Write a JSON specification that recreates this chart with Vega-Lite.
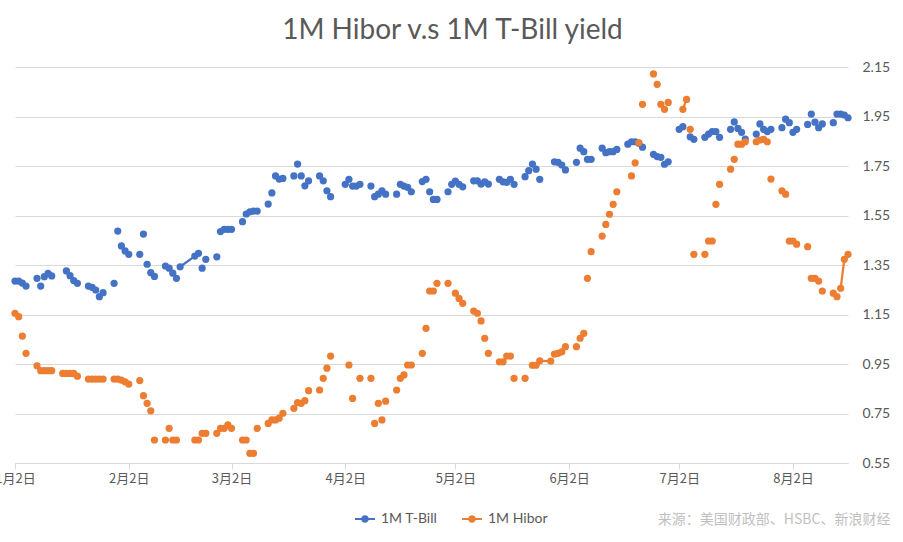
{
"$schema": "https://vega.github.io/schema/vega-lite/v6.json",
"autosize": {"type": "none"},
"width": 833,
"height": 396,
"padding": {"left": 15, "top": 67, "right": 55, "bottom": 79},
"background": "white",
"config": {"view": {"stroke": null}},
"title": {"text": "1M Hibor v.s 1M T-Bill yield", "font": "Lato", "fontSize": 28, "fontWeight": "normal", "color": "#595959", "anchor": "middle", "dx": 21, "offset": 15},
"data": {"format": {"parse": {"d": "date:'%Y-%m-%d'"}}, "values": [
{"d":"2018-01-02","s":"1M T-Bill","v":1.285},{"d":"2018-01-03","s":"1M T-Bill","v":1.285},{"d":"2018-01-04","s":"1M T-Bill","v":1.277},{"d":"2018-01-05","s":"1M T-Bill","v":1.265},
{"d":"2018-01-08","s":"1M T-Bill","v":1.296},{"d":"2018-01-09","s":"1M T-Bill","v":1.265},{"d":"2018-01-10","s":"1M T-Bill","v":1.303},{"d":"2018-01-11","s":"1M T-Bill","v":1.316},{"d":"2018-01-12","s":"1M T-Bill","v":1.306},
{"d":"2018-01-16","s":"1M T-Bill","v":1.326},{"d":"2018-01-17","s":"1M T-Bill","v":1.307},{"d":"2018-01-18","s":"1M T-Bill","v":1.287},{"d":"2018-01-19","s":"1M T-Bill","v":1.276},
{"d":"2018-01-22","s":"1M T-Bill","v":1.265},{"d":"2018-01-23","s":"1M T-Bill","v":1.26},{"d":"2018-01-24","s":"1M T-Bill","v":1.249},{"d":"2018-01-25","s":"1M T-Bill","v":1.222},{"d":"2018-01-26","s":"1M T-Bill","v":1.238},
{"d":"2018-01-29","s":"1M T-Bill","v":1.276},{"d":"2018-01-30","s":"1M T-Bill","v":1.487},{"d":"2018-01-31","s":"1M T-Bill","v":1.427},{"d":"2018-02-01","s":"1M T-Bill","v":1.407},{"d":"2018-02-02","s":"1M T-Bill","v":1.393},
{"d":"2018-02-05","s":"1M T-Bill","v":1.393},{"d":"2018-02-06","s":"1M T-Bill","v":1.475},{"d":"2018-02-07","s":"1M T-Bill","v":1.353},{"d":"2018-02-08","s":"1M T-Bill","v":1.319},{"d":"2018-02-09","s":"1M T-Bill","v":1.304},
{"d":"2018-02-12","s":"1M T-Bill","v":1.346},{"d":"2018-02-13","s":"1M T-Bill","v":1.337},{"d":"2018-02-14","s":"1M T-Bill","v":1.317},{"d":"2018-02-15","s":"1M T-Bill","v":1.296},{"d":"2018-02-16","s":"1M T-Bill","v":1.343,"run":1},
{"d":"2018-02-20","s":"1M T-Bill","v":1.386,"run":1},{"d":"2018-02-21","s":"1M T-Bill","v":1.397,"run":1},{"d":"2018-02-22","s":"1M T-Bill","v":1.337},{"d":"2018-02-23","s":"1M T-Bill","v":1.373},
{"d":"2018-02-26","s":"1M T-Bill","v":1.383},{"d":"2018-02-27","s":"1M T-Bill","v":1.485},{"d":"2018-02-28","s":"1M T-Bill","v":1.494},{"d":"2018-03-01","s":"1M T-Bill","v":1.494},{"d":"2018-03-02","s":"1M T-Bill","v":1.494},
{"d":"2018-03-05","s":"1M T-Bill","v":1.525},{"d":"2018-03-06","s":"1M T-Bill","v":1.556},{"d":"2018-03-07","s":"1M T-Bill","v":1.565},{"d":"2018-03-08","s":"1M T-Bill","v":1.568},{"d":"2018-03-09","s":"1M T-Bill","v":1.568},
{"d":"2018-03-12","s":"1M T-Bill","v":1.596},{"d":"2018-03-13","s":"1M T-Bill","v":1.641},{"d":"2018-03-14","s":"1M T-Bill","v":1.71},{"d":"2018-03-15","s":"1M T-Bill","v":1.697},{"d":"2018-03-16","s":"1M T-Bill","v":1.70},
{"d":"2018-03-19","s":"1M T-Bill","v":1.71},{"d":"2018-03-20","s":"1M T-Bill","v":1.758},{"d":"2018-03-21","s":"1M T-Bill","v":1.71},{"d":"2018-03-22","s":"1M T-Bill","v":1.67},{"d":"2018-03-23","s":"1M T-Bill","v":1.69},
{"d":"2018-03-26","s":"1M T-Bill","v":1.71},{"d":"2018-03-27","s":"1M T-Bill","v":1.69},{"d":"2018-03-28","s":"1M T-Bill","v":1.65},{"d":"2018-03-29","s":"1M T-Bill","v":1.626},
{"d":"2018-04-02","s":"1M T-Bill","v":1.676},{"d":"2018-04-03","s":"1M T-Bill","v":1.696},{"d":"2018-04-04","s":"1M T-Bill","v":1.669},{"d":"2018-04-05","s":"1M T-Bill","v":1.669},{"d":"2018-04-06","s":"1M T-Bill","v":1.676},
{"d":"2018-04-09","s":"1M T-Bill","v":1.669},{"d":"2018-04-10","s":"1M T-Bill","v":1.626},{"d":"2018-04-11","s":"1M T-Bill","v":1.636},{"d":"2018-04-12","s":"1M T-Bill","v":1.65},{"d":"2018-04-13","s":"1M T-Bill","v":1.636},
{"d":"2018-04-16","s":"1M T-Bill","v":1.636},{"d":"2018-04-17","s":"1M T-Bill","v":1.676},{"d":"2018-04-18","s":"1M T-Bill","v":1.669},{"d":"2018-04-19","s":"1M T-Bill","v":1.664},{"d":"2018-04-20","s":"1M T-Bill","v":1.646},
{"d":"2018-04-23","s":"1M T-Bill","v":1.687},{"d":"2018-04-24","s":"1M T-Bill","v":1.696},{"d":"2018-04-25","s":"1M T-Bill","v":1.646},{"d":"2018-04-26","s":"1M T-Bill","v":1.615},{"d":"2018-04-27","s":"1M T-Bill","v":1.615},
{"d":"2018-04-30","s":"1M T-Bill","v":1.646},{"d":"2018-05-01","s":"1M T-Bill","v":1.676},{"d":"2018-05-02","s":"1M T-Bill","v":1.689},{"d":"2018-05-03","s":"1M T-Bill","v":1.676},{"d":"2018-05-04","s":"1M T-Bill","v":1.666},
{"d":"2018-05-07","s":"1M T-Bill","v":1.69},{"d":"2018-05-08","s":"1M T-Bill","v":1.69},{"d":"2018-05-09","s":"1M T-Bill","v":1.677},{"d":"2018-05-10","s":"1M T-Bill","v":1.686},{"d":"2018-05-11","s":"1M T-Bill","v":1.677},
{"d":"2018-05-14","s":"1M T-Bill","v":1.696},{"d":"2018-05-15","s":"1M T-Bill","v":1.686},{"d":"2018-05-16","s":"1M T-Bill","v":1.684},{"d":"2018-05-17","s":"1M T-Bill","v":1.696},{"d":"2018-05-18","s":"1M T-Bill","v":1.676},
{"d":"2018-05-21","s":"1M T-Bill","v":1.707},{"d":"2018-05-22","s":"1M T-Bill","v":1.731},{"d":"2018-05-23","s":"1M T-Bill","v":1.758},{"d":"2018-05-24","s":"1M T-Bill","v":1.737},{"d":"2018-05-25","s":"1M T-Bill","v":1.696},
{"d":"2018-05-29","s":"1M T-Bill","v":1.767},{"d":"2018-05-30","s":"1M T-Bill","v":1.765},{"d":"2018-05-31","s":"1M T-Bill","v":1.754},{"d":"2018-06-01","s":"1M T-Bill","v":1.734},
{"d":"2018-06-04","s":"1M T-Bill","v":1.765},{"d":"2018-06-05","s":"1M T-Bill","v":1.822},{"d":"2018-06-06","s":"1M T-Bill","v":1.808},{"d":"2018-06-07","s":"1M T-Bill","v":1.777},{"d":"2018-06-08","s":"1M T-Bill","v":1.777},
{"d":"2018-06-11","s":"1M T-Bill","v":1.822},{"d":"2018-06-12","s":"1M T-Bill","v":1.804},{"d":"2018-06-13","s":"1M T-Bill","v":1.808},{"d":"2018-06-14","s":"1M T-Bill","v":1.808},{"d":"2018-06-15","s":"1M T-Bill","v":1.817},
{"d":"2018-06-18","s":"1M T-Bill","v":1.838},{"d":"2018-06-19","s":"1M T-Bill","v":1.848},{"d":"2018-06-20","s":"1M T-Bill","v":1.848},{"d":"2018-06-21","s":"1M T-Bill","v":1.842},{"d":"2018-06-22","s":"1M T-Bill","v":1.826},
{"d":"2018-06-25","s":"1M T-Bill","v":1.797},{"d":"2018-06-26","s":"1M T-Bill","v":1.788},{"d":"2018-06-27","s":"1M T-Bill","v":1.785},{"d":"2018-06-28","s":"1M T-Bill","v":1.757},{"d":"2018-06-29","s":"1M T-Bill","v":1.767},
{"d":"2018-07-02","s":"1M T-Bill","v":1.898},{"d":"2018-07-03","s":"1M T-Bill","v":1.909},{"d":"2018-07-05","s":"1M T-Bill","v":1.868},{"d":"2018-07-06","s":"1M T-Bill","v":1.858},
{"d":"2018-07-09","s":"1M T-Bill","v":1.866},{"d":"2018-07-10","s":"1M T-Bill","v":1.879},{"d":"2018-07-11","s":"1M T-Bill","v":1.889},{"d":"2018-07-12","s":"1M T-Bill","v":1.889},{"d":"2018-07-13","s":"1M T-Bill","v":1.866},
{"d":"2018-07-16","s":"1M T-Bill","v":1.898},{"d":"2018-07-17","s":"1M T-Bill","v":1.928},{"d":"2018-07-18","s":"1M T-Bill","v":1.902},{"d":"2018-07-19","s":"1M T-Bill","v":1.886},{"d":"2018-07-20","s":"1M T-Bill","v":1.859},
{"d":"2018-07-23","s":"1M T-Bill","v":1.879},{"d":"2018-07-24","s":"1M T-Bill","v":1.92},{"d":"2018-07-25","s":"1M T-Bill","v":1.898},{"d":"2018-07-26","s":"1M T-Bill","v":1.889},{"d":"2018-07-27","s":"1M T-Bill","v":1.898},
{"d":"2018-07-30","s":"1M T-Bill","v":1.905},{"d":"2018-07-31","s":"1M T-Bill","v":1.939},{"d":"2018-08-01","s":"1M T-Bill","v":1.925},{"d":"2018-08-02","s":"1M T-Bill","v":1.886},{"d":"2018-08-03","s":"1M T-Bill","v":1.898},
{"d":"2018-08-06","s":"1M T-Bill","v":1.918},{"d":"2018-08-07","s":"1M T-Bill","v":1.96},{"d":"2018-08-08","s":"1M T-Bill","v":1.927},{"d":"2018-08-09","s":"1M T-Bill","v":1.905},{"d":"2018-08-10","s":"1M T-Bill","v":1.92},
{"d":"2018-08-13","s":"1M T-Bill","v":1.925},{"d":"2018-08-14","s":"1M T-Bill","v":1.96},{"d":"2018-08-15","s":"1M T-Bill","v":1.96},{"d":"2018-08-16","s":"1M T-Bill","v":1.956},{"d":"2018-08-17","s":"1M T-Bill","v":1.945},
{"d":"2018-01-02","s":"1M Hibor","v":1.155},{"d":"2018-01-03","s":"1M Hibor","v":1.141},{"d":"2018-01-04","s":"1M Hibor","v":1.063},{"d":"2018-01-05","s":"1M Hibor","v":0.993},
{"d":"2018-01-08","s":"1M Hibor","v":0.943},{"d":"2018-01-09","s":"1M Hibor","v":0.923},{"d":"2018-01-10","s":"1M Hibor","v":0.923},{"d":"2018-01-11","s":"1M Hibor","v":0.923},{"d":"2018-01-12","s":"1M Hibor","v":0.923},
{"d":"2018-01-15","s":"1M Hibor","v":0.912},{"d":"2018-01-16","s":"1M Hibor","v":0.912},{"d":"2018-01-17","s":"1M Hibor","v":0.912},{"d":"2018-01-18","s":"1M Hibor","v":0.912},{"d":"2018-01-19","s":"1M Hibor","v":0.901},
{"d":"2018-01-22","s":"1M Hibor","v":0.889},{"d":"2018-01-23","s":"1M Hibor","v":0.889},{"d":"2018-01-24","s":"1M Hibor","v":0.889},{"d":"2018-01-25","s":"1M Hibor","v":0.889},{"d":"2018-01-26","s":"1M Hibor","v":0.889},
{"d":"2018-01-29","s":"1M Hibor","v":0.889},{"d":"2018-01-30","s":"1M Hibor","v":0.889},{"d":"2018-01-31","s":"1M Hibor","v":0.885},{"d":"2018-02-01","s":"1M Hibor","v":0.878},{"d":"2018-02-02","s":"1M Hibor","v":0.869},
{"d":"2018-02-05","s":"1M Hibor","v":0.883},{"d":"2018-02-06","s":"1M Hibor","v":0.822},{"d":"2018-02-07","s":"1M Hibor","v":0.791},{"d":"2018-02-08","s":"1M Hibor","v":0.761},{"d":"2018-02-09","s":"1M Hibor","v":0.643},
{"d":"2018-02-12","s":"1M Hibor","v":0.643},{"d":"2018-02-13","s":"1M Hibor","v":0.69},{"d":"2018-02-14","s":"1M Hibor","v":0.643},{"d":"2018-02-15","s":"1M Hibor","v":0.643},
{"d":"2018-02-20","s":"1M Hibor","v":0.643},{"d":"2018-02-21","s":"1M Hibor","v":0.643},{"d":"2018-02-22","s":"1M Hibor","v":0.67},{"d":"2018-02-23","s":"1M Hibor","v":0.67},
{"d":"2018-02-26","s":"1M Hibor","v":0.67},{"d":"2018-02-27","s":"1M Hibor","v":0.69},{"d":"2018-02-28","s":"1M Hibor","v":0.69},{"d":"2018-03-01","s":"1M Hibor","v":0.704},{"d":"2018-03-02","s":"1M Hibor","v":0.69},
{"d":"2018-03-05","s":"1M Hibor","v":0.643},{"d":"2018-03-06","s":"1M Hibor","v":0.643},{"d":"2018-03-07","s":"1M Hibor","v":0.589},{"d":"2018-03-08","s":"1M Hibor","v":0.589},{"d":"2018-03-09","s":"1M Hibor","v":0.69},
{"d":"2018-03-12","s":"1M Hibor","v":0.71},{"d":"2018-03-13","s":"1M Hibor","v":0.724},{"d":"2018-03-14","s":"1M Hibor","v":0.724},{"d":"2018-03-15","s":"1M Hibor","v":0.731},{"d":"2018-03-16","s":"1M Hibor","v":0.751},
{"d":"2018-03-19","s":"1M Hibor","v":0.771},{"d":"2018-03-20","s":"1M Hibor","v":0.794},{"d":"2018-03-21","s":"1M Hibor","v":0.791},{"d":"2018-03-22","s":"1M Hibor","v":0.802},{"d":"2018-03-23","s":"1M Hibor","v":0.842},
{"d":"2018-03-26","s":"1M Hibor","v":0.845},{"d":"2018-03-27","s":"1M Hibor","v":0.892},{"d":"2018-03-28","s":"1M Hibor","v":0.933},{"d":"2018-03-29","s":"1M Hibor","v":0.982},
{"d":"2018-04-03","s":"1M Hibor","v":0.946},{"d":"2018-04-04","s":"1M Hibor","v":0.811},{"d":"2018-04-06","s":"1M Hibor","v":0.892},
{"d":"2018-04-09","s":"1M Hibor","v":0.892},{"d":"2018-04-10","s":"1M Hibor","v":0.71},{"d":"2018-04-11","s":"1M Hibor","v":0.791},{"d":"2018-04-12","s":"1M Hibor","v":0.724},{"d":"2018-04-13","s":"1M Hibor","v":0.80},
{"d":"2018-04-16","s":"1M Hibor","v":0.845},{"d":"2018-04-17","s":"1M Hibor","v":0.892},{"d":"2018-04-18","s":"1M Hibor","v":0.906},{"d":"2018-04-19","s":"1M Hibor","v":0.946},{"d":"2018-04-20","s":"1M Hibor","v":0.946},
{"d":"2018-04-23","s":"1M Hibor","v":0.993},{"d":"2018-04-24","s":"1M Hibor","v":1.094},{"d":"2018-04-25","s":"1M Hibor","v":1.245},{"d":"2018-04-26","s":"1M Hibor","v":1.245},{"d":"2018-04-27","s":"1M Hibor","v":1.276},
{"d":"2018-04-30","s":"1M Hibor","v":1.276},{"d":"2018-05-02","s":"1M Hibor","v":1.236},{"d":"2018-05-03","s":"1M Hibor","v":1.215},{"d":"2018-05-04","s":"1M Hibor","v":1.195},
{"d":"2018-05-07","s":"1M Hibor","v":1.164},{"d":"2018-05-08","s":"1M Hibor","v":1.155},{"d":"2018-05-09","s":"1M Hibor","v":1.124},{"d":"2018-05-10","s":"1M Hibor","v":1.054},{"d":"2018-05-11","s":"1M Hibor","v":0.993},
{"d":"2018-05-14","s":"1M Hibor","v":0.959},{"d":"2018-05-15","s":"1M Hibor","v":0.959},{"d":"2018-05-16","s":"1M Hibor","v":0.982},{"d":"2018-05-17","s":"1M Hibor","v":0.982},{"d":"2018-05-18","s":"1M Hibor","v":0.892},
{"d":"2018-05-21","s":"1M Hibor","v":0.892},{"d":"2018-05-23","s":"1M Hibor","v":0.945},{"d":"2018-05-24","s":"1M Hibor","v":0.945},{"d":"2018-05-25","s":"1M Hibor","v":0.963,"run":2},
{"d":"2018-05-28","s":"1M Hibor","v":0.962,"run":2},{"d":"2018-05-29","s":"1M Hibor","v":0.99},{"d":"2018-05-30","s":"1M Hibor","v":0.993},{"d":"2018-05-31","s":"1M Hibor","v":0.999},{"d":"2018-06-01","s":"1M Hibor","v":1.02},
{"d":"2018-06-04","s":"1M Hibor","v":1.02},{"d":"2018-06-05","s":"1M Hibor","v":1.054},{"d":"2018-06-06","s":"1M Hibor","v":1.074},{"d":"2018-06-07","s":"1M Hibor","v":1.296},{"d":"2018-06-08","s":"1M Hibor","v":1.404},
{"d":"2018-06-11","s":"1M Hibor","v":1.467},{"d":"2018-06-12","s":"1M Hibor","v":1.514},{"d":"2018-06-13","s":"1M Hibor","v":1.555},{"d":"2018-06-14","s":"1M Hibor","v":1.595},{"d":"2018-06-15","s":"1M Hibor","v":1.646},
{"d":"2018-06-19","s":"1M Hibor","v":1.71},{"d":"2018-06-20","s":"1M Hibor","v":1.763},{"d":"2018-06-21","s":"1M Hibor","v":1.844},{"d":"2018-06-22","s":"1M Hibor","v":1.999},
{"d":"2018-06-25","s":"1M Hibor","v":2.122},{"d":"2018-06-26","s":"1M Hibor","v":2.08},{"d":"2018-06-27","s":"1M Hibor","v":1.999},{"d":"2018-06-28","s":"1M Hibor","v":1.979},{"d":"2018-06-29","s":"1M Hibor","v":2.007},
{"d":"2018-07-03","s":"1M Hibor","v":1.979,"run":3},{"d":"2018-07-04","s":"1M Hibor","v":2.019,"run":3},{"d":"2018-07-05","s":"1M Hibor","v":1.898},{"d":"2018-07-06","s":"1M Hibor","v":1.393},
{"d":"2018-07-09","s":"1M Hibor","v":1.393},{"d":"2018-07-10","s":"1M Hibor","v":1.447},{"d":"2018-07-11","s":"1M Hibor","v":1.447},{"d":"2018-07-12","s":"1M Hibor","v":1.595},{"d":"2018-07-13","s":"1M Hibor","v":1.676},
{"d":"2018-07-16","s":"1M Hibor","v":1.737},{"d":"2018-07-17","s":"1M Hibor","v":1.777},{"d":"2018-07-18","s":"1M Hibor","v":1.838},{"d":"2018-07-19","s":"1M Hibor","v":1.838},{"d":"2018-07-20","s":"1M Hibor","v":1.848},
{"d":"2018-07-23","s":"1M Hibor","v":1.848},{"d":"2018-07-24","s":"1M Hibor","v":1.855},{"d":"2018-07-25","s":"1M Hibor","v":1.858},{"d":"2018-07-26","s":"1M Hibor","v":1.848},{"d":"2018-07-27","s":"1M Hibor","v":1.697},
{"d":"2018-07-30","s":"1M Hibor","v":1.65},{"d":"2018-07-31","s":"1M Hibor","v":1.636},{"d":"2018-08-01","s":"1M Hibor","v":1.447},{"d":"2018-08-02","s":"1M Hibor","v":1.447},{"d":"2018-08-03","s":"1M Hibor","v":1.434},
{"d":"2018-08-06","s":"1M Hibor","v":1.424},{"d":"2018-08-07","s":"1M Hibor","v":1.296},{"d":"2018-08-08","s":"1M Hibor","v":1.296},{"d":"2018-08-09","s":"1M Hibor","v":1.285},{"d":"2018-08-10","s":"1M Hibor","v":1.245},
{"d":"2018-08-13","s":"1M Hibor","v":1.236},{"d":"2018-08-14","s":"1M Hibor","v":1.222},{"d":"2018-08-15","s":"1M Hibor","v":1.256,"run":4},{"d":"2018-08-16","s":"1M Hibor","v":1.373,"run":4},{"d":"2018-08-17","s":"1M Hibor","v":1.393,"run":4}
]},
"encoding": {
  "x": {"field": "d", "type": "temporal",
    "scale": {"domain": [{"year": 2018, "month": 1, "date": 2}, {"year": 2018, "month": 8, "date": 17}]},
    "axis": {"values": [{"year": 2018, "month": 1, "date": 2}, {"year": 2018, "month": 2, "date": 2}, {"year": 2018, "month": 3, "date": 2}, {"year": 2018, "month": 4, "date": 2}, {"year": 2018, "month": 5, "date": 2}, {"year": 2018, "month": 6, "date": 2}, {"year": 2018, "month": 7, "date": 2}, {"year": 2018, "month": 8, "date": 2}],
      "format": "%-m月%-d日", "labelFont": "Noto Sans CJK SC", "labelFontSize": 13, "labelColor": "#595959", "labelPadding": 3, "labelFlush": false, "labelOverlap": false,
      "domainColor": "#d9d9d9", "domainWidth": 1, "tickColor": "#d9d9d9", "tickSize": 6, "grid": false,
      "title": "来源：美国财政部、HSBC、新浪财经", "titleFont": "Noto Sans CJK SC", "titleFontSize": 14, "titleFontWeight": "normal", "titleColor": "#bfbfbf",
      "titleX": 875, "titleY": 56, "titleAlign": "right", "titleAnchor": null, "titleBaseline": "middle"}},
  "y": {"field": "v", "type": "quantitative",
    "scale": {"domain": [0.55, 2.15], "nice": false, "zero": false},
    "axis": {"orient": "right", "values": [0.55, 0.75, 0.95, 1.15, 1.35, 1.55, 1.75, 1.95, 2.15], "format": ".2f",
      "labelFont": "Lato", "labelFontSize": 14, "labelColor": "#595959", "labelPadding": 14,
      "ticks": false, "domain": false, "grid": true, "gridColor": "#d9d9d9", "gridWidth": 1, "title": null}},
  "color": {"field": "s", "type": "nominal", "scale": {"domain": ["1M T-Bill", "1M Hibor"], "range": ["#4472C4", "#ED7D31"]},
     "legend": {"orient": "none", "direction": "horizontal", "legendX": 340, "legendY": 442, "title": null,
       "symbolType": "M-1,-0.1H1V0.1H-1Z M0.38,0A0.38,0.38 0 1 1 -0.38,0A0.38,0.38 0 1 1 0.38,0Z",
       "symbolSize": 400, "symbolOpacity": 1, "symbolStrokeWidth": 0, "labelFont": "Lato", "labelFontSize": 14, "labelColor": "#595959", "columnPadding": 24, "labelOffset": 6,
       "encode": {"symbols": {"update": {"fill": {"scale": "color", "field": "value"}, "stroke": {"value": "transparent"}, "opacity": {"value": 1}}}}}}
},
"layer": [
  {"transform": [{"filter": "isValid(datum.run)"}],
   "mark": {"type": "line", "strokeWidth": 2.25},
   "encoding": {"detail": {"field": "run", "type": "nominal"}}},
  {"mark": {"type": "point", "filled": true, "size": 52, "opacity": 1}}
]
}
